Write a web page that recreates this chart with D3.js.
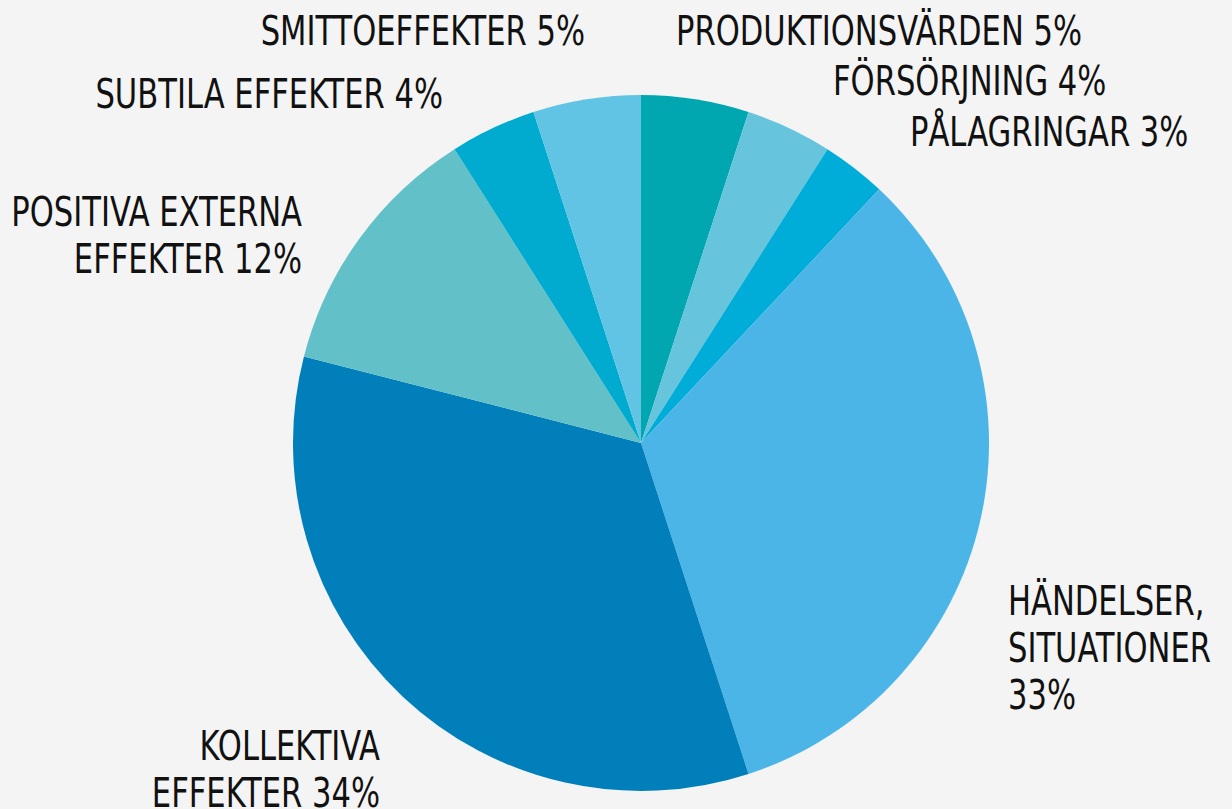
<!DOCTYPE html>
<head>
    <title>Effekter</title>
    <meta charset="utf-8">
    <style>
        body { margin: 0; background: #f4f4f4; }
        svg text {
            font-family: "DejaVu Sans Condensed", "Liberation Sans", sans-serif;
            font-size: 40px;
            fill: #111;
        }
    </style>
</head>

<body>
    <div id="chart"></div>

    <script src="https://d3js.org/d3.v7.min.js"></script>
    <script>
        var categories = ["PRODUKTIONSVÄRDEN", "FÖRSÖRJNING", "PÅLAGRINGAR", "HÄNDELSER, SITUATIONER",
                          "KOLLEKTIVA EFFEKTER", "POSITIVA EXTERNA EFFEKTER", "SUBTILA EFFEKTER", "SMITTOEFFEKTER"];
        var values = [5, 4, 3, 33, 34, 12, 4, 5];
        var colors = ["#00a7b1", "#66c4dc", "#00acd8", "#4cb5e8", "#007fba", "#62c1c8", "#00abcf", "#62c4e4"];

        // label lines as in the picture (line breaks), percent added later
        var labelLines = [
            ["PRODUKTIONSVÄRDEN"],
            ["FÖRSÖRJNING"],
            ["PÅLAGRINGAR"],
            ["HÄNDELSER,", "SITUATIONER", ""],
            ["KOLLEKTIVA", "EFFEKTER"],
            ["POSITIVA EXTERNA", "EFFEKTER"],
            ["SUBTILA EFFEKTER"],
            ["SMITTOEFFEKTER"]
        ];

        // label placement: anchor point of the first baseline
        var labelPos = [
            {x: 676, y: 45, anchor: "start"},
            {x: 833, y: 95, anchor: "start"},
            {x: 910, y: 146, anchor: "start"},
            {x: 1008, y: 615, anchor: "start"},
            {x: 380, y: 760, anchor: "end"},
            {x: 302, y: 226, anchor: "end"},
            {x: 443, y: 108, anchor: "end"},
            {x: 585, y: 45, anchor: "end"}
        ];

        var width = 1232, height = 809,
            cx = 641, cy = 443, radius = 348,
            lineH = 47,
            squeeze = 0.85; // the original hand lettering is narrower than DejaVu

        var svg = d3.select("#chart")
            .append("svg")
            .attr("width", width)
            .attr("height", height);

        var pie = d3.pie().sort(null).value(d => d);
        var arc = d3.arc().innerRadius(0).outerRadius(radius);

        var g = svg.append("g")
            .attr("transform", "translate(" + cx + "," + cy + ")");

        g.selectAll("path")
            .data(pie(values))
            .enter()
            .append("path")
            .attr("d", arc)
            .attr("fill", (d, i) => colors[i]);

        var labels = svg.selectAll(".label")
            .data(categories)
            .enter()
            .append("text")
            .attr("class", "label")
            .attr("transform", (d, i) => "translate(" + labelPos[i].x + "," + labelPos[i].y + ") scale(" + squeeze + ",1)")
            .attr("text-anchor", (d, i) => labelPos[i].anchor);

        labels.each(function(d, i) {
            var lines = labelLines[i].slice();
            var last = lines.length - 1;
            lines[last] = (lines[last] ? lines[last] + " " : "") + values[i] + "%";
            d3.select(this).selectAll("tspan")
                .data(lines)
                .enter()
                .append("tspan")
                .attr("x", 0)
                .attr("dy", (l, j) => j === 0 ? 0 : lineH)
                .text(l => l);
        });
    </script>

</body>
</html>
